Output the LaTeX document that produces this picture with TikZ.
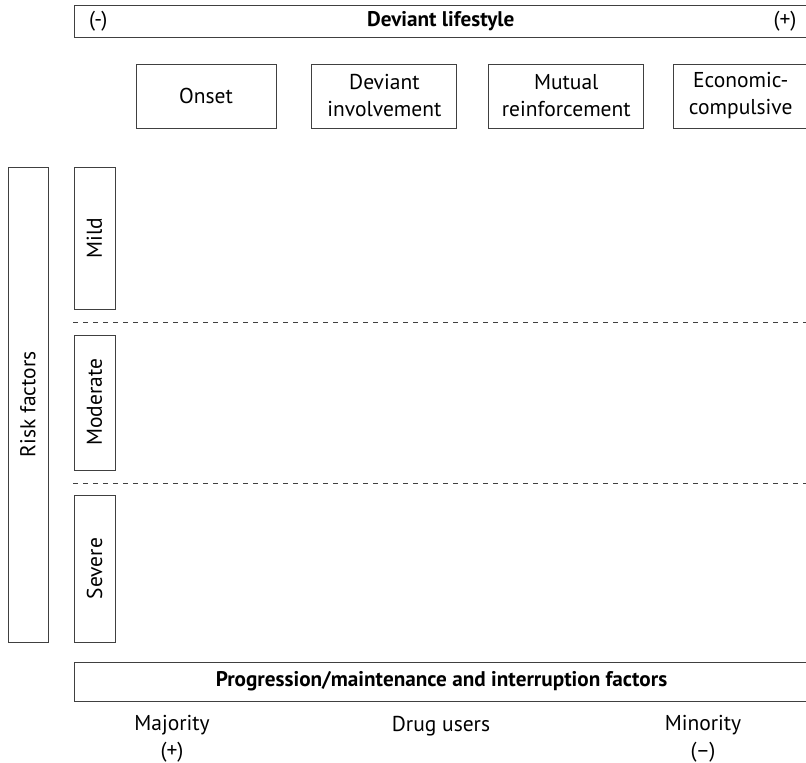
\documentclass[tikz,border=0pt]{standalone}
\usepackage{fontspec}
\setmainfont{PT Sans}
\usetikzlibrary{positioning}
\tikzstyle{box}=[draw=black!75,line width=0.9pt,inner sep=0pt,align=center]
\tikzstyle{stage}=[box,minimum height=64pt]
\tikzstyle{level}=[box,rotate=90,minimum height=41pt]
\tikzstyle{sep}=[draw=black!75,line width=0.9pt,dash pattern=on 5pt off 5pt]
\tikzstyle{heavy}=[font=\fontsize{21.2}{27}\selectfont\bfseries]

\begin{document}
\begin{tikzpicture}[x=1pt,y=-1pt,node distance=30pt,font=\fontsize{21.5}{27}\selectfont]
    \useasboundingbox (0,0) rectangle (806,763);
    \clip (0,0) rectangle (806,763);

    % deviant lifestyle bar
    \node[box,heavy,minimum width=733.5pt,minimum height=32pt] (lifestyle) at (440.75,21) {Deviant lifestyle};
    \node[anchor=west] (minus) at ([xshift=12pt]lifestyle.west) {(-)};
    \node (plus) at (785,21) {(+)};

    % stages
    \node[stage,minimum width=140pt] (s_1) at (206,96) {Onset};
    \node[stage,minimum width=145pt] (s_2) [right=35pt of s_1] {Deviant\\involvement};
    \node[stage,minimum width=155pt] (s_3) [right=31pt of s_2] {Mutual\\reinforcement};
    \node[stage,minimum width=134pt] (s_4) [right=29pt of s_3] {Economic-\\compulsive};

    % risk factors
    \node[box,rotate=90,minimum width=475pt,minimum height=40pt] (risk) at (28,404.5) {Risk factors};
    \node[level,minimum width=142pt] (mild) at (94.5,238) {Mild};
    \node[level,minimum width=135pt] (moderate) at (94.5,402.5) {Moderate};
    \node[level,minimum width=147pt] (severe) at (94.5,568.5) {Severe};

    \draw[sep] (73,322) -- (810,322);
    \draw[sep] (73,483) -- (810,483);

    % progression bar
    \node[box,heavy,minimum width=735pt,minimum height=39pt] (factors) at (441.5,681.5) {Progression/maintenance and interruption factors};
    \node[align=center] (majority) at (172,739) {Majority\\(+)};
    \node (users) at (441,726) {Drug users};
    \node[align=center] (minority) at (703,739) {Minority\\(–)};
\end{tikzpicture}
\end{document}
